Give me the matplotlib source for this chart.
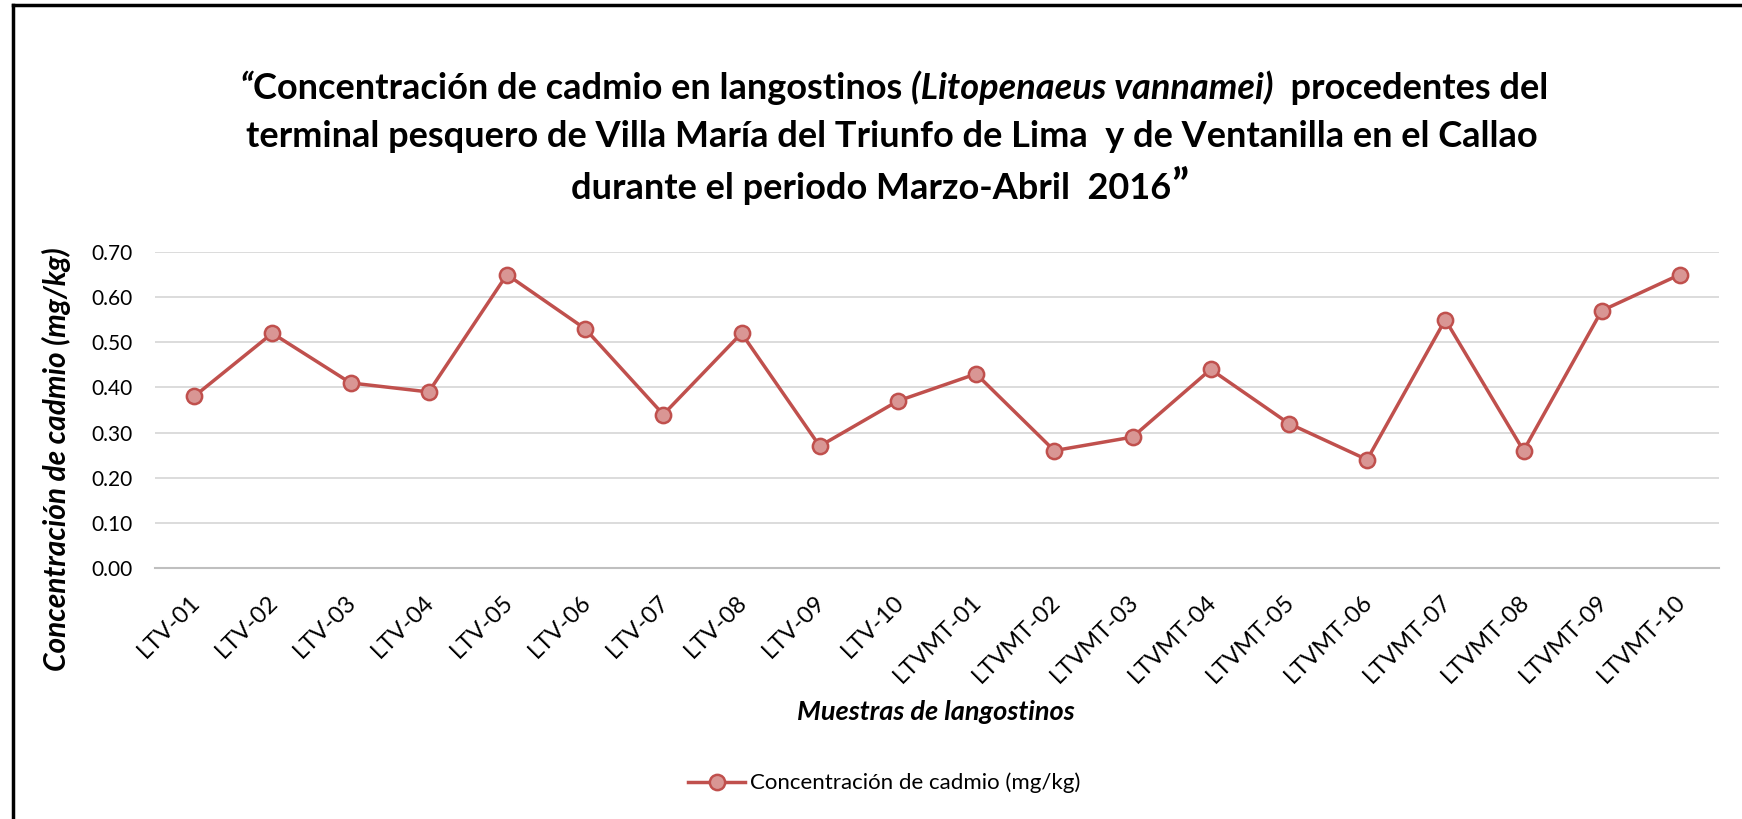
import matplotlib
matplotlib.use("Agg")
import matplotlib.pyplot as plt
from matplotlib.lines import Line2D
from matplotlib.transforms import ScaledTranslation

samples = ["LTV-01", "LTV-02", "LTV-03", "LTV-04", "LTV-05", "LTV-06", "LTV-07",
           "LTV-08", "LTV-09", "LTV-10", "LTVMT-01", "LTVMT-02", "LTVMT-03",
           "LTVMT-04", "LTVMT-05", "LTVMT-06", "LTVMT-07", "LTVMT-08", "LTVMT-09",
           "LTVMT-10"]
cadmio = [0.38, 0.52, 0.41, 0.39, 0.65, 0.53, 0.34, 0.52, 0.27, 0.37,
          0.43, 0.26, 0.29, 0.44, 0.32, 0.24, 0.55, 0.26, 0.57, 0.65]
yticks = [0.0, 0.1, 0.2, 0.3, 0.4, 0.5, 0.6, 0.7]

series_label = "Concentración de cadmio (mg/kg)"
title_l1 = [("“", "italic"),
            ("Concentración de cadmio en langostinos ", "normal"),
            ("(Litopenaeus vannamei)", "italic"),
            ("  procedentes del", "normal")]
title_l2 = "terminal pesquero de Villa María del Triunfo de Lima  y de Ventanilla en el Callao"
title_l3 = "durante el periodo Marzo-Abril  2016"
title_close = "”"

FONT = "Lato"
plt.rcParams['font.family'] = [FONT, 'DejaVu Sans']

W, H = 1742, 819
fig = plt.figure(figsize=(W / 100, H / 100), dpi=100)
fig.patch.set_facecolor("white")

left, right, bottom, top = 155, 1719, 568, 252
ax = fig.add_axes([left / W, 1 - bottom / H, (right - left) / W, (bottom - top) / H])

x = list(range(len(samples)))
ax.plot(x, cadmio, color="#C0504D", lw=2.5, marker="o", markersize=11,
        markerfacecolor="#D99694", markeredgecolor="#C0504D", markeredgewidth=1.8,
        label=series_label, zorder=3)

ax.set_xlim(-0.5, len(samples) - 0.5)
ax.set_ylim(0, 0.7)
ax.set_yticks(yticks)
ax.set_yticklabels([f"{v:.2f}" for v in yticks], fontsize=15)
ax.set_xticks(x)
ax.set_xticklabels(samples, rotation=45, ha="right", rotation_mode="anchor", fontsize=17)
ax.tick_params(axis="both", length=0)
ax.tick_params(axis="y", pad=16)
ax.tick_params(axis="x", pad=8)
off = ScaledTranslation(-5 / 100, -12 / 100, fig.dpi_scale_trans)
for lab in ax.get_xticklabels():
    lab.set_transform(lab.get_transform() + off)
ax.grid(axis="y", color="#D9D9D9", lw=1.3)
ax.set_axisbelow(True)
for s in ["top", "right", "left"]:
    ax.spines[s].set_visible(False)
ax.spines["bottom"].set_color("#BFBFBF")
ax.spines["bottom"].set_linewidth(1.5)

fig.text(56 / W, 1 - 459 / H, "Concentración de cadmio (mg/kg)", rotation=90,
         ha="center", va="center", fontsize=21.5, fontweight="bold", fontstyle="italic")
fig.text(936 / W, 1 - 712 / H, "Muestras de langostinos", ha="center", va="center",
         fontsize=19.5, fontweight="bold", fontstyle="italic")

# Title
tsize = 26
fig.canvas.draw()
renderer = fig.canvas.get_renderer()


def place_line(parts, cx, cy):
    objs = []
    for txt, style, size, dy in parts:
        t = fig.text(0, 1 - (cy + dy) / H, txt, ha="left", va="baseline", fontsize=size,
                     fontweight="bold", fontstyle=style)
        objs.append(t)
    widths = [o.get_window_extent(renderer).width for o in objs]
    xcur = cx - sum(widths) / 2
    for o, w in zip(objs, widths):
        o.set_x(xcur / W)
        xcur += w


place_line([(t, s, tsize, 0) for t, s in title_l1], 894, 99)
place_line([(title_l2, "normal", tsize, 0)], 892, 147)
place_line([(title_l3, "normal", tsize, 0), (title_close, "normal", 32, 0)], 880, 199)

# Legend
fig.legend(handles=[Line2D([], [], color="#C0504D", lw=2.5, marker="o", markersize=11,
                           markerfacecolor="#D99694", markeredgecolor="#C0504D",
                           markeredgewidth=1.8)],
           labels=[series_label], loc="center", bbox_to_anchor=(884 / W, 1 - 783 / H),
           frameon=False, fontsize=16, handlelength=2.6, handletextpad=0.2)

# Frame lines (top and left)
fig.add_artist(Line2D([13 / W, 1], [1 - 5 / H, 1 - 5 / H], color="black", lw=2.5,
                      transform=fig.transFigure))
fig.add_artist(Line2D([13 / W, 13 / W], [0, 1 - 5 / H], color="black", lw=2.5,
                      transform=fig.transFigure))

fig.savefig("out.png", dpi=100, facecolor="white")
